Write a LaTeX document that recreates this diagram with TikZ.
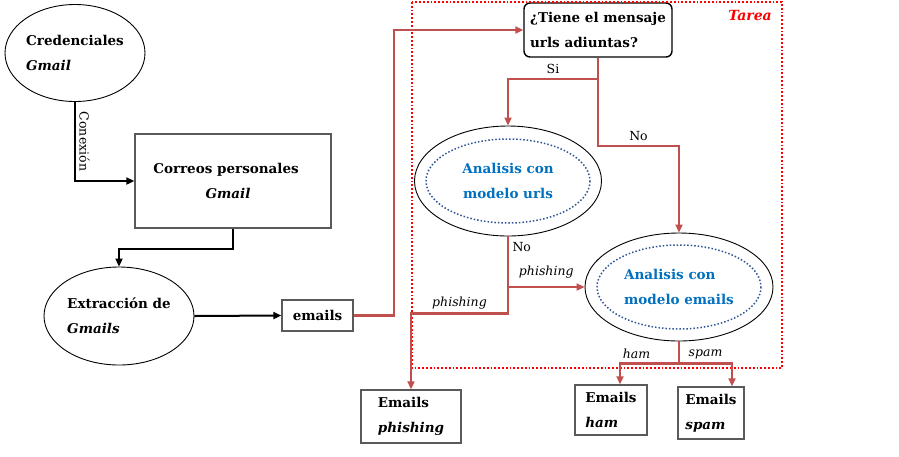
\documentclass[tikz,border=0pt]{standalone}
\usepackage{fontspec}
\setmainfont{DejaVu Serif}
\usetikzlibrary{arrows.meta,positioning,shapes.geometric}
\definecolor{flujo}{RGB}{192,80,77}
\definecolor{modelo}{RGB}{0,112,192}
\definecolor{punteado}{RGB}{47,85,151}
\definecolor{borde}{RGB}{90,90,90}

\begin{document}
\begin{tikzpicture}[x=1pt,y=-1pt,>={Triangle[length=8pt,width=7pt]},
            elipse/.style={draw,ellipse,line width=0.9pt,align=left,inner sep=0pt,font=\bfseries\fontsize{13.5}{25}\selectfont},
            caja/.style={draw=borde,line width=1.4pt,align=left,inner sep=2pt,font=\bfseries\fontsize{13.5}{25}\selectfont},
            etiqueta/.style={font=\fontsize{12.5}{14}\selectfont}]
            \useasboundingbox (0,0) rectangle (899,456);
            \node[elipse, minimum width=140, minimum height=97]  (cred)    at (75,53)     {Credenciales\\\textit{Gmail}};
            \node[caja, align=center, minimum width=196, minimum height=94] (correos) at (233,181) {Correos personales\hspace*{14pt}\\\textit{Gmail}\hspace*{10pt}};
            \node[elipse, minimum width=150, minimum height=98]  (extra)   at (119,316)   {Extracción de\\\textit{Gmails}};
            \node[caja, minimum width=71, minimum height=31]     (emails)  at (317.5,315.5) {emails};
            \node[caja, draw=black, rounded corners=6pt, inner sep=1pt, minimum width=148, minimum height=54] (pregunta) at (598,30) {¿Tiene el mensaje\\ urls adiuntas?};
            \node[elipse, align=center, text=modelo, minimum width=187, minimum height=110] (urls)      at (508,181) {Analisis con\\modelo urls};
            \node[elipse, text=modelo, minimum width=188, minimum height=108]               (modemails) at (679,287) {Analisis con\\modelo emails};
            \node[caja, minimum width=100, minimum height=53]    (phish)   at (411,416.5) {Emails\\\textit{phishing}};
            \node[caja, minimum width=72, minimum height=50]     (ham)     at (611,410)   {Emails\\\textit{ham}};
            \node[caja, minimum width=66, minimum height=52]     (spam)    at (711,413)   {Emails\\\textit{spam}};
            % tarea
            \draw[red, dotted, line width=1.8pt] (412,2) rectangle (782,368);
            \node[text=red, font=\bfseries\itshape\fontsize{14}{16}\selectfont] (tarea) at (750,15) {Tarea};
            \draw[punteado, dotted, line width=1.5pt] (urls.center) ellipse (82 and 42);
            \draw[punteado, dotted, line width=1.5pt] (modemails.center) ellipse (82 and 42);
            \tikzset{negra/.style={->,line width=2pt}}
            \tikzset{roja/.style={->,draw=flujo,line width=2.4pt}}
            \draw[negra] (cred.south) |- (correos.west) node[etiqueta, rotate=-90, anchor=south, pos=0.25] {Conexión};
            \draw[negra] (correos.south) -- ++(0,20) -| (extra.north);
            \draw[negra] (extra.east) -- (emails.west);
            \draw[roja] (emails.east) -- ++(40,0) |- (pregunta.west);
            \draw[roja] (pregunta.south) -- ++(0,21) coordinate (rama) -| (urls.north) node[etiqueta, pos=0.25, above] {Si};
            \draw[roja] (rama) -- ++(0,67) -| (modemails.north) node[etiqueta, pos=0.25, above] {No};
            \draw[roja] (urls.south) |- (modemails.west) node[etiqueta, pos=0.1, right] {No} node[etiqueta, pos=0.75, above, yshift=4pt] {\textit{phishing}};
            \draw[roja] (urls.south) -- ++(0,77) -| (phish.north) node[etiqueta, pos=0.25, above] {\textit{phishing}};
            \draw[roja] (modemails.south) -- ++(0,22) coordinate (rama3) -| ([xshift=9pt]ham.north) node[etiqueta, pos=0.36, above] {\textit{ham}};
            \draw[roja] (rama3) -| ([xshift=21pt]spam.north) node[etiqueta, pos=0.25, above] {\textit{spam}};
        \end{tikzpicture}
\end{document}
